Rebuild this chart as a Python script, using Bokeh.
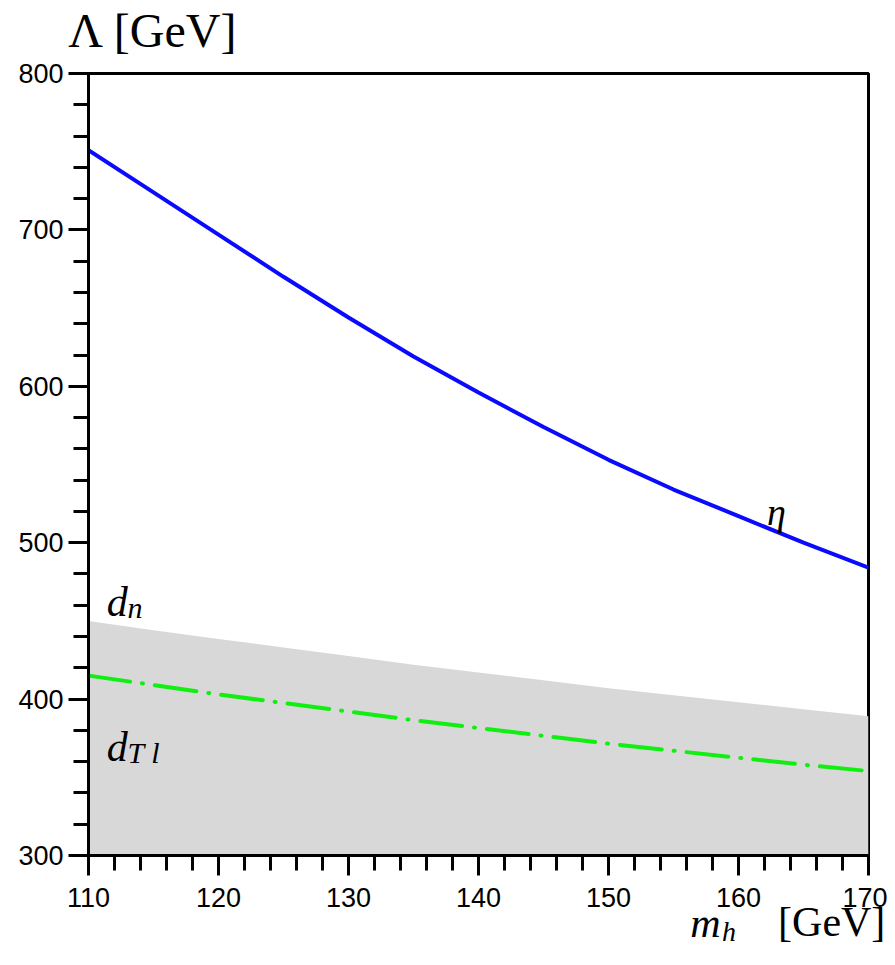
from bokeh.plotting import figure
from bokeh.models import (Label, SingleIntervalTicker, FixedTicker, Range1d, LinearAxis,
                          CustomJSTickFormatter)
from bokeh.embed import file_html
from bokeh.resources import INLINE

# Data
mh = [110, 115, 120, 125, 130, 135, 140, 145, 150, 155, 160, 165, 170]
lam_eta = [751, 724, 697, 670, 644, 619, 596, 574, 553, 534, 517, 500, 484]
lam_dn = [450, 444, 438.5, 433, 427.5, 422, 417, 412, 407, 402.5, 398, 393.5, 389]
lam_dtl = [415, 409, 403, 397.5, 392, 386.5, 381.5, 376.5, 371.5, 367, 362.5, 358, 354]
band_floor = [300] * len(mh)

serif = "Liberation Serif"

p = figure(width=887, height=949, output_backend="svg", toolbar_location=None,
           x_range=Range1d(110, 170), y_range=Range1d(300, 800),
           min_border_left=88, min_border_right=19, min_border_top=73, min_border_bottom=94,
           x_axis_type=None, y_axis_type=None)
p.grid.visible = False
p.title.visible = False
p.background_fill_color = "white"
p.border_fill_color = "white"
p.outline_line_color = "black"
p.outline_line_width = 3

xax = LinearAxis(ticker=SingleIntervalTicker(interval=10, num_minor_ticks=5))
yax = LinearAxis(ticker=SingleIntervalTicker(interval=100, num_minor_ticks=5))
for ax in (xax, yax):
    ax.axis_line_color = "black"
    ax.axis_line_width = 3
    ax.major_tick_line_width = 3
    ax.minor_tick_line_width = 3
    ax.major_tick_line_color = "black"
    ax.minor_tick_line_color = "black"
    ax.major_tick_out = 20
    ax.major_tick_in = 0
    ax.minor_tick_out = 15
    ax.minor_tick_in = 0
    ax.major_label_text_font = "Liberation Sans"
    ax.major_label_text_font_size = "27px"
    ax.major_label_text_color = "black"
xax.major_label_standoff = 12
yax.major_label_standoff = 5
p.add_layout(xax, "below")
p.add_layout(yax, "left")


def bare_axis(tick, text, size, style, standoff):
    ax = LinearAxis(ticker=FixedTicker(ticks=[tick]),
                    formatter=CustomJSTickFormatter(code="return %r" % text))
    ax.axis_line_color = None
    ax.major_tick_line_color = None
    ax.minor_tick_line_color = None
    ax.major_tick_out = 0
    ax.major_tick_in = 0
    ax.minor_tick_out = 0
    ax.minor_tick_in = 0
    ax.major_label_text_font = serif
    ax.major_label_text_font_size = size
    ax.major_label_text_font_style = style
    ax.major_label_text_color = "black"
    ax.major_label_standoff = standoff
    return ax

# y-axis title "Λ [GeV]" above the top-left corner
p.add_layout(bare_axis(114.96, "Λ [GeV]", "48px", "normal", 17), "above")

# x-axis title "m_h [GeV]" at the bottom-right
p.add_layout(bare_axis(167.5, "[GeV]", "42px", "normal", -11), "below")
p.add_layout(bare_axis(159.27, "h", "28px", "italic", -32), "below")
p.add_layout(bare_axis(157.45, "m", "42px", "italic", -50), "below")

p.varea(x=mh, y1=band_floor, y2=lam_dn, fill_color="#d8d8d8", fill_alpha=1.0)
p.line(mh, lam_dtl, line_color="#11ee11", line_width=4, line_dash="42 12 1 12",
       line_cap="round")
p.line(mh, lam_eta, line_color="#0a0aff", line_width=4)


def lab(x, y, t, size, style="normal"):
    p.add_layout(Label(x=x, y=y, text=t, text_font=serif, text_font_size=size,
                       text_font_style=style, text_align="left",
                       text_baseline="alphabetic", text_color="black"))

# curve annotations
lab(162.2, 519.8, "η", "38px", "italic")
lab(111.4, 462.0, "d", "42px", "italic")
lab(113.0, 458.8, "n", "30px", "italic")
lab(111.4, 369.3, "d", "42px", "italic")
lab(113.0, 366.1, "T l", "30px", "italic")

open("out.html", "w").write(file_html(p, INLINE))
